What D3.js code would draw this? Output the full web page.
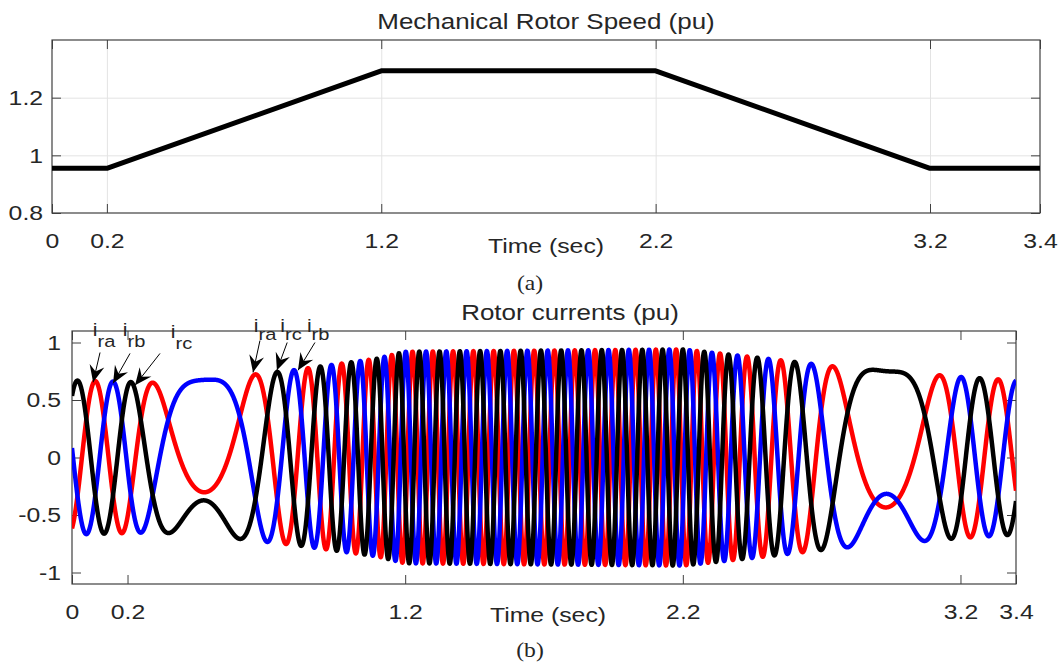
<!DOCTYPE html>
<html>
<head>
<meta charset="utf-8">
<script src="https://cdn.jsdelivr.net/npm/d3@7"></script>
<style>
  body { margin: 0; background: #fff; }
  text { font-family: "Liberation Sans", Arial, sans-serif; fill: #262626; }
</style>
</head>
<body>
<script>
// values
const timeTicks = [0, 0.2, 1.2, 2.2, 3.2, 3.4];
const speedTicks = [0.8, 1, 1.2];
const currentTicks = [-1, -0.5, 0, 0.5, 1];

const speedTimes = [0, 0.2, 1.2, 2.2, 3.2, 3.4];
const speedValues = [0.955, 0.955, 1.293, 1.293, 0.955, 0.955];

// rotor (slip) frequency and envelope of the rotor currents
const slipTimes = [0, 0.2, 1.2, 2.2, 3.2, 3.4];
const slipHz = [5.21, 5.21, -13.695, -13.695, 5.0, 5.0];
const ampTimes = [0, 0.3, 0.5, 0.8, 1.1, 1.2, 2.2, 2.5, 2.75, 2.95, 3.2, 3.4];
const ampValues = [0.67, 0.65, 0.68, 0.76, 0.86, 0.92, 0.94, 0.86, 0.79, 0.75, 0.70, 0.67];
const phaseStartDeg = -67;

const phaseNames = ["ra", "rb", "rc"];
const phaseColors = ["#ff0000", "#0000ff", "#000000"];
const phaseShiftDeg = [0, -120, 120];

// arrows + labels
const annLabels = ["ra", "rb", "rc", "ra", "rc", "rb"];
const annTextT = [0.075, 0.183, 0.356, 0.655, 0.75, 0.846];
const annTextV = [1.058, 1.058, 1.043, 1.095, 1.095, 1.095];
const annTailT = [0.101, 0.209, 0.317, 0.677, 0.775, 0.875];
const annTailV = [0.913, 0.905, 0.905, 1.017, 1.0, 1.0];
const annTipT = [0.076, 0.148, 0.227, 0.652, 0.738, 0.814];
const annTipV = [0.654, 0.645, 0.628, 0.74, 0.758, 0.758];

const SX = 1.18; // the figure's text is horizontally stretched

const svg = d3.select("body").append("svg")
    .attr("width", 1060)
    .attr("height", 664);

function stretch(sel) {
    sel.attr("transform", `scale(${SX},1)`);
}

function label(x, y, txt, size, anchor, family) {
    const g = svg.append("g").attr("transform", `translate(${x},${y})`);
    const t = g.append("text")
        .attr("font-size", size)
        .attr("text-anchor", anchor || "middle")
        .text(txt);
    if (family) t.style("font-family", family);
    stretch(t);
    return t;
}

function drawFrame(x, y, box, yTicks, ypad, grid) {
    const w = box.right - box.left, h = box.bottom - box.top;
    const g = svg.append("g");

    if (grid) {
        g.append("g")
            .attr("transform", `translate(0,${box.bottom})`)
            .call(d3.axisBottom(x).tickValues(timeTicks.slice(1, -1)).tickSize(-h).tickFormat(""))
            .call(a => a.select(".domain").remove())
            .call(a => a.selectAll("line").attr("stroke", "#e3e3e3"));
        g.append("g")
            .attr("transform", `translate(${box.left},0)`)
            .call(d3.axisLeft(y).tickValues(yTicks.slice(1)).tickSize(-w).tickFormat(""))
            .call(a => a.select(".domain").remove())
            .call(a => a.selectAll("line").attr("stroke", "#e3e3e3"));
    }

    const fmt = d => String(d);
    const bottom = g.append("g")
        .attr("transform", `translate(0,${box.bottom})`)
        .call(d3.axisBottom(x).tickValues(timeTicks).tickSizeInner(-9).tickSizeOuter(0).tickPadding(20)
            .tickFormat(fmt));
    const top = g.append("g")
        .attr("transform", `translate(0,${box.top})`)
        .call(d3.axisTop(x).tickValues(timeTicks).tickSizeInner(-9).tickSizeOuter(0).tickFormat(""));
    const left = g.append("g")
        .attr("transform", `translate(${box.left},0)`)
        .call(d3.axisLeft(y).tickValues(yTicks).tickSizeInner(-9).tickSizeOuter(0).tickPadding(ypad)
            .tickFormat(fmt));
    const right = g.append("g")
        .attr("transform", `translate(${box.right},0)`)
        .call(d3.axisRight(y).tickValues(yTicks).tickSizeInner(-9).tickSizeOuter(0).tickFormat(""));

    [bottom, top, left, right].forEach(a => {
        a.select(".domain").remove();
        a.selectAll("line").attr("stroke", "#404040");
        a.selectAll("text").attr("font-size", 21).attr("fill", "#262626")
            .style("font-family", "'Liberation Sans', Arial, sans-serif");
        stretch(a.selectAll("text"));
    });

    g.append("rect")
        .attr("x", box.left).attr("y", box.top)
        .attr("width", w).attr("height", h)
        .attr("fill", "none")
        .attr("stroke", "#404040")
        .attr("stroke-width", 1.2);
}

// ---------- (a) mechanical rotor speed ----------
const boxA = {left: 52, right: 1040, top: 40, bottom: 213};
const xA = d3.scaleLinear().domain([0, 3.2, 3.4]).range([boxA.left, 930, boxA.right]);
const yA = d3.scaleLinear().domain([0.8, 1.4]).range([boxA.bottom, boxA.top]);

drawFrame(xA, yA, boxA, speedTicks, 7.6, true);

svg.append("path")
    .datum(speedTimes.map((t, i) => [t, speedValues[i]]))
    .attr("fill", "none")
    .attr("stroke", "#000")
    .attr("stroke-width", 5)
    .attr("stroke-linejoin", "round")
    .attr("d", d3.line().x(d => xA(d[0])).y(d => yA(d[1])));

label(546, 29, "Mechanical Rotor Speed (pu)", 22);
label(546, 253, "Time (sec)", 21);
label(530, 290, "(a)", 20, "middle", "'Liberation Serif', 'Times New Roman', serif");

// ---------- (b) rotor currents ----------
const boxB = {left: 72, right: 1016, top: 331, bottom: 584};
const xB = d3.scaleLinear().domain([0, 3.4]).range([boxB.left, boxB.right]);
const yB = d3.scaleLinear().domain([-1.1, 1.1]).range([boxB.bottom, boxB.top]);

const slipAt = d3.scaleLinear().domain(slipTimes).range(slipHz);
const ampAt = d3.scaleLinear().domain(ampTimes).range(ampValues);

const dt = 0.0004;
const nSteps = Math.round(3.4 / dt);
const series = phaseNames.map(() => []);
let phase = phaseStartDeg / 360;
for (let i = 0; i <= nSteps; i++) {
    const t = i * dt;
    if (i > 0) phase += 0.5 * (slipAt(t - dt) + slipAt(t)) * dt;
    const A = ampAt(t);
    phaseNames.forEach((n, k) => {
        series[k].push([t, A * Math.sin(2 * Math.PI * (phase + phaseShiftDeg[k] / 360))]);
    });
}

svg.append("clipPath").attr("id", "clipB")
    .append("rect")
    .attr("x", boxB.left).attr("y", boxB.top)
    .attr("width", boxB.right - boxB.left).attr("height", boxB.bottom - boxB.top);

drawFrame(xB, yB, boxB, currentTicks, 9.3, false);

const lineB = d3.line().x(d => xB(d[0])).y(d => yB(d[1]));
svg.append("g")
    .attr("clip-path", "url(#clipB)")
    .selectAll("path")
    .data(series)
    .join("path")
    .attr("fill", "none")
    .attr("stroke", (d, i) => phaseColors[i])
    .attr("stroke-width", 4.5)
    .attr("stroke-linejoin", "round")
    .attr("d", lineB);

// arrow annotations
svg.append("defs").append("marker")
    .attr("id", "head")
    .attr("markerUnits", "userSpaceOnUse")
    .attr("viewBox", "-18 -9 20 18")
    .attr("markerWidth", 20).attr("markerHeight", 18)
    .attr("refX", 0).attr("refY", 0)
    .attr("orient", "auto")
    .append("path")
    .attr("d", "M0,0 L-17,-7.5 L-11,0 L-17,7.5 Z")
    .attr("fill", "#000");

annLabels.forEach((lab, i) => {
    svg.append("line")
        .attr("x1", xB(annTailT[i])).attr("y1", yB(annTailV[i]))
        .attr("x2", xB(annTipT[i])).attr("y2", yB(annTipV[i]))
        .attr("stroke", "#000")
        .attr("stroke-width", 1)
        .attr("marker-end", "url(#head)");

    const g = svg.append("g")
        .attr("transform", `translate(${xB(annTextT[i])},${yB(annTextV[i])})`);
    const t = g.append("text").attr("font-size", 18).attr("fill", "#111");
    t.append("tspan").text("i");
    t.append("tspan").attr("dy", i < 3 ? 11 : 8).attr("font-size", 17).text(lab);
    stretch(t);
});

label(570, 320, "Rotor currents (pu)", 22);
label(548, 622, "Time (sec)", 21);
label(530, 657, "(b)", 20, "middle", "'Liberation Serif', 'Times New Roman', serif");
</script>
</body>
</html>
